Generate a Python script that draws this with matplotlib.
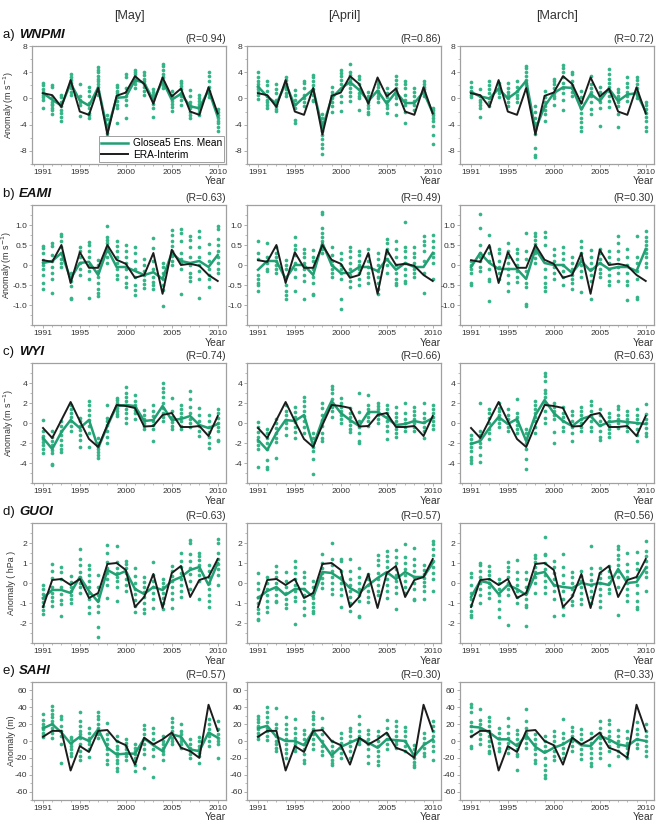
import matplotlib
matplotlib.use("Agg")
import matplotlib.pyplot as plt
from matplotlib.ticker import MultipleLocator, FixedLocator

plt.rcParams['font.family'] = ['Liberation Sans', 'DejaVu Sans']

years = list(range(1991, 2011))
months = ["[May]", "[April]", "[March]"]
row_labels = ["a)", "b)", "c)", "d)", "e)"]
row_names = ["WNPMI", "EAMI", "WYI", "GUOI", "SAHI"]
ylabels = ["Anomaly (m s$^{-1}$)", "Anomaly (m s$^{-1}$)", "Anomaly (m s$^{-1}$)",
           "Anomaly ( hPa )", "Anomaly (m)"]
r_values = [["(R=0.94)", "(R=0.86)", "(R=0.72)"],
            ["(R=0.63)", "(R=0.49)", "(R=0.30)"],
            ["(R=0.74)", "(R=0.66)", "(R=0.63)"],
            ["(R=0.63)", "(R=0.57)", "(R=0.56)"],
            ["(R=0.57)", "(R=0.30)", "(R=0.33)"]]
ylims = [(-10, 8), (-1.5, 1.5), (-6, 6), (-3, 3), (-70, 70)]
yticks = [[-8, -4, 0, 4, 8], [-1.0, -0.5, 0, 0.5, 1.0], [-4, -2, 0, 2, 4],
          [-2, -1, 0, 1, 2], [-60, -40, -20, 0, 20, 40, 60]]
yticklabels = [["-8", "-4", "0", "4", "8"], ["-1.0", "-0.5", "0", "0.5", "1.0"],
               ["-4", "-2", "0", "2", "4"], ["-2", "-1", "0", "1", "2"],
               ["-60", "-40", "-20", "0", "20", "40", "60"]]

# ERA-Interim (same for all lead months)
era_wnpmi = [0.8, 0.5, -1.3, 2.8, -2.0, -2.5, 1.6, -5.5, 0.4, 0.9, 3.4, 2.2, -0.8, 3.2, 0.3, 1.5, -2.0, -2.5, 1.7, -2.3]
era_eami = [0.12, 0.08, 0.5, -0.45, 0.32, -0.07, -0.07, 0.5, 0.13, 0.03, -0.32, -0.25, 0.3, -0.72, 0.38, 0.0, 0.03, -0.02, -0.25, -0.4]
era_wyi = [-0.5, -1.5, 0.3, 2.1, 0.2, -1.6, -2.4, -0.2, 1.8, 1.7, 1.5, -0.35, -0.3, 0.8, 1.0, -0.4, -0.4, -0.3, -1.3, 0.7]
era_guoi = [-1.2, 0.15, 0.2, -0.1, 0.2, -0.75, -0.5, 0.95, 1.0, 0.65, -1.2, -0.7, 0.45, -1.25, 0.5, 0.85, -0.7, 0.15, 0.3, 1.2]
era_sahi = [5, 12, 12, -35, -6, -13, 12, 13, 0, -5, -28, 4, -4, 2, 10, -8, -12, -20, 43, 12]

# GloSea5 ensemble means
mean_wnpmi_may = [0.8, -0.2, -1.1, 2.3, -0.3, -1.1, 1.7, -4.8, 0.1, 0.2, 2.8, 2.4, -0.3, 2.7, -0.2, 0.7, -1.2, -1.5, 1.3, -2.8]
mean_wnpmi_apr = [1.8, 0.3, -0.8, 2.3, -1.1, 0.2, 1.4, -4.5, 0.0, 1.5, 2.5, 1.3, -0.4, 1.2, -0.8, 1.0, -0.7, -0.7, 1.0, -2.2]
mean_wnpmi_mar = [1.0, 0.3, 0.0, 1.5, 0.0, 1.0, 2.7, -4.8, -1.2, 0.8, 1.7, 1.6, -1.7, 0.7, -0.4, 1.5, -0.4, 0.6, 0.8, -2.0]
mean_eami_may = [0.05, 0.1, 0.3, -0.35, 0.05, 0.08, -0.25, 0.4, -0.05, -0.05, -0.15, -0.25, -0.18, -0.35, 0.3, 0.1, 0.05, 0.1, -0.05, 0.25]
mean_eami_apr = [-0.12, 0.1, 0.1, -0.35, 0.0, 0.0, -0.25, 0.55, 0.0, -0.2, -0.2, -0.05, -0.05, -0.15, 0.15, -0.12, 0.05, -0.05, -0.05, 0.3]
mean_eami_mar = [-0.05, 0.3, 0.05, -0.1, -0.1, -0.1, -0.35, 0.4, 0.05, 0.0, 0.0, -0.2, 0.1, -0.15, 0.05, -0.1, -0.05, -0.05, -0.15, 0.4]
mean_wyi_may = [-1.5, -2.6, -0.9, 0.3, -0.5, 0.3, -2.5, -0.3, 1.7, 1.8, 1.7, 0.2, 0.3, 1.7, 0.3, 0.4, 0.7, -0.2, -0.5, -0.1]
mean_wyi_apr = [-1.7, -2.7, -1.0, 0.3, 0.2, 0.8, -2.3, 0.3, 2.2, 1.0, 0.3, -0.3, 1.1, 1.1, 0.5, -0.2, -0.1, 0.2, 0.0, 0.5]
mean_wyi_mar = [-2.1, -1.8, -0.5, 0.6, -0.1, 0.4, -1.8, 0.8, 2.3, 1.0, 0.2, -0.3, 0.4, 0.7, -0.3, 0.1, 0.2, 0.1, 0.0, -0.1]
mean_guoi_may = [-0.75, -0.35, -0.35, -0.5, 0.3, -0.4, -0.95, 0.65, 0.4, 0.6, -0.3, -0.55, -0.2, -0.35, 0.1, 0.3, 0.65, 0.8, -0.1, 1.0]
mean_guoi_apr = [-0.75, -0.4, -0.2, -0.6, -0.3, -0.3, -0.7, 0.55, 0.5, 0.2, -0.25, -0.5, -0.1, 0.25, 0.55, 0.2, 0.55, 0.3, 0.3, 1.0]
mean_guoi_mar = [-0.7, 0.1, 0.0, -0.55, -0.1, -0.3, -0.6, 0.45, 0.55, -0.1, -0.2, -0.25, 0.0, -0.1, 0.0, -0.1, 0.7, 0.0, 0.05, 0.75]
mean_sahi_may = [15, 20, 10, -3, 5, 0, 14, -8, -16, -15, -15, 3, -5, -12, 8, 5, -10, -12, 10, 4]
mean_sahi_apr = [15, 18, 5, 0, 0, -5, 12, -2, -17, -7, -2, 3, -2, -8, 2, 1, 0, -18, -5, 2]
mean_sahi_mar = [17, 16, 10, 2, 2, -6, 7, -7, -14, -8, -4, 3, -5, -6, 6, 2, -4, -6, 2, 0]

# GloSea5 ensemble members (one list per year)
mem_wnpmi_may = [
    [2.4, 2.1, 1.5, 1.0, 0.5, 0.2, -0.3, -1.4], [2.0, 1.7, 0.2, -0.5, -0.8, -1.0, -1.4, -1.8, -2.4],
    [0.6, 0.2, -0.5, -1.2, -1.8, -2.2, -2.8, -3.4], [3.8, 3.2, 2.8, 2.4, 2.0, 1.6, 1.0, 0.5],
    [2.2, 0.4, -0.2, -0.5, -1.0, -2.7], [1.8, 1.2, 0.4, -0.7, -1.4, -2.2, -2.6, -3.0],
    [4.8, 4.4, 4.0, 3.5, 3.0, 2.6, 2.2, 1.8, 1.2, 0.6], [-2.5, -3.2, -4.0, -4.6, -5.2, -5.8, -6.8, -7.4, -8.0],
    [2.0, 1.7, 1.2, 0.8, 0.2, -0.4, -1.0, -1.4, -3.7], [3.8, 3.2, 1.6, 1.0, 0.3, -0.3, -1.0, -3.0],
    [4.4, 4.1, 3.7, 3.3, 3.0, 2.6, 2.2, 1.6], [4.0, 3.6, 3.0, 2.6, 2.2, 1.8, 1.2, 0.6],
    [1.5, 1.0, 0.5, -0.3, -0.8, -1.5, -2.8], [5.3, 4.9, 4.4, 3.8, 3.2, 2.5, 2.0, 1.6],
    [1.2, 0.6, 0.2, -0.4, -0.8, -1.3, -1.9], [2.7, 2.3, 1.9, 1.4, 0.8, 0.3, -0.2, -1.0],
    [1.3, 0.4, -0.5, -1.0, -1.5, -2.0, -2.5, -3.0], [0.5, 0.1, -0.4, -0.8, -1.2, -1.6, -2.0, -2.5],
    [4.0, 3.4, 2.6, 1.8, 1.2, 0.7, 0.2], [-1.6, -2.0, -2.6, -3.0, -3.4, -3.8, -4.4, -5.0, -6.1]]
mem_wnpmi_apr = [
    [4.0, 3.2, 2.6, 2.2, 1.8, 1.4, 1.0, 0.6, -0.1], [2.6, 2.0, 1.2, 0.4, -0.2, -0.6, -1.0, -1.4],
    [2.2, 1.5, 0.8, -0.2, -0.8, -1.2, -1.6, -1.9], [3.3, 2.8, 2.2, 1.8, 1.4, 0.9, 0.4],
    [1.3, 0.6, -0.2, -0.8, -1.4, -3.3, -3.8], [2.6, 2.3, 1.6, 0.6, 0.0, -0.5, -1.2],
    [3.6, 3.2, 2.6, 2.0, 1.4, 0.6, -0.2, -0.4], [-2.4, -3.0, -3.6, -4.2, -5.0, -5.6, -6.2, -7.0, -7.6, -8.5],
    [1.7, 1.0, 0.5, 0.0, -0.6, -1.2, -2.0], [4.4, 3.9, 3.4, 2.8, 2.2, 1.4, 0.4, -0.6, -1.9],
    [5.2, 4.0, 3.6, 3.0, 2.6, 2.2, 1.6, 1.0, 0.4, -0.4], [3.4, 3.0, 2.2, 1.4, 0.8, 0.4, 0.0, -1.8],
    [1.0, 0.4, 0.0, -0.5, -1.0, -1.5, -2.0, -2.4], [2.6, 2.2, 1.8, 1.2, 0.8, 0.4, 0.0, -0.6],
    [1.6, 0.8, 0.2, -0.4, -1.0, -1.5, -2.2], [3.4, 2.8, 2.2, 1.6, 1.2, 0.6, 0.0, -0.8, -2.6],
    [2.6, 2.2, 1.6, 0.6, -0.2, -1.0, -2.0, -3.7], [1.6, 1.0, 0.4, -0.4, -1.0, -1.8],
    [2.6, 2.2, 1.8, 1.4, 1.0, 0.4], [-1.4, -1.8, -2.2, -2.6, -3.0, -3.4, -4.2, -5.6, -6.9]]
mem_wnpmi_mar = [
    [2.5, 1.8, 1.2, 1.0, 0.6, 0.2], [1.4, 0.4, -0.2, -0.6, -1.0, -1.5, -2.8],
    [2.6, 2.0, 1.4, 0.8, 0.0, -0.6, -1.2], [2.4, 2.0, 1.6, 1.2, 0.8, 0.2],
    [2.4, 1.6, 1.0, 0.6, 0.0, -0.6, -1.2], [2.6, 1.8, 1.2, 0.6, 0.0, -0.6],
    [5.0, 4.6, 4.0, 3.4, 2.8, 2.4, 2.0, 1.4], [-1.2, -2.0, -3.0, -3.8, -4.6, -5.4, -7.6, -8.6, -8.9],
    [1.2, 0.2, -0.6, -1.2, -1.8, -2.4, -3.4], [3.0, 2.6, 2.2, 1.6, 0.8, 0.4, 0.0, -1.0],
    [5.1, 4.6, 4.0, 3.2, 2.4, 1.6, 0.8, -0.3, -1.8], [4.0, 3.8, 2.6, 2.0, 1.6, 1.0, 0.4],
    [1.2, 0.2, -0.6, -1.4, -2.2, -3.0, -3.6, -4.4, -5.0], [3.4, 2.2, 1.6, 1.0, 0.4, -0.6, -1.6, -2.4],
    [1.8, 1.0, 0.4, 0.0, -0.6, -1.4, -4.2], [4.5, 3.8, 3.0, 2.4, 1.8, 1.2, 0.4, -0.4, -1.3],
    [1.4, 1.0, 0.4, 0.0, -0.6, -1.2, -2.4, -4.3], [3.2, 2.4, 1.8, 1.0, 0.4, -0.4],
    [3.2, 2.8, 2.2, 1.6, 1.0, 0.6, 0.0], [-0.6, -1.0, -1.6, -2.2, -2.8, -3.4, -4.4, -5.0]]

mem_eami_may = [
    [0.48, 0.42, 0.3, 0.12, 0.0, -0.1, -0.25, -0.45, -0.6], [0.55, 0.48, 0.25, 0.1, -0.05, -0.2, -0.35, -0.7],
    [0.78, 0.72, 0.6, 0.45, 0.3, 0.15, 0.05, -0.05], [-0.2, -0.3, -0.4, -0.52, -0.82, -0.86],
    [0.45, 0.35, 0.2, 0.05, -0.1, -0.25], [0.58, 0.5, 0.35, 0.2, 0.0, -0.15, -0.35, -0.82],
    [0.12, 0.0, -0.15, -0.3, -0.45, -0.6, -0.7, -0.78], [0.98, 0.7, 0.62, 0.55, 0.45, 0.35, 0.2, 0.05],
    [0.6, 0.48, 0.35, 0.2, 0.05, -0.1, -0.25, -0.35], [0.5, 0.35, 0.2, 0.05, -0.1, -0.3, -0.45, -0.55],
    [0.45, 0.3, 0.1, -0.1, -0.3, -0.5, -0.62, -0.75], [0.15, 0.0, -0.15, -0.25, -0.38, -0.48, -0.58],
    [0.68, 0.42, 0.1, -0.1, -0.3, -0.42, -0.5, -0.6], [0.05, -0.05, -0.2, -0.35, -0.5, -0.62, -1.02],
    [0.88, 0.75, 0.6, 0.48, 0.35, 0.22, 0.1, 0.0], [0.9, 0.8, 0.6, 0.3, 0.15, 0.05, -0.1, -0.72],
    [0.72, 0.62, 0.45, 0.2, 0.0, -0.2, -0.3, -0.4], [0.85, 0.7, 0.45, 0.2, 0.0, -0.15, -0.35, -0.82],
    [0.52, 0.3, 0.1, -0.1, -0.25, -0.35, -0.55], [0.98, 0.9, 0.65, 0.5, 0.35, 0.2, 0.05, -0.1, -0.2]]
mem_eami_apr = [
    [0.6, 0.3, 0.15, -0.25, -0.35, -0.45, -0.5, -0.65], [0.56, 0.2, 0.05, -0.1, -0.15],
    [0.45, 0.3, 0.2, 0.1, 0.0, -0.1, -0.2], [0.12, 0.0, -0.1, -0.3, -0.5, -0.65, -0.75, -0.86],
    [0.7, 0.5, 0.4, 0.25, 0.05, -0.1, -0.3, -0.65], [0.4, 0.3, 0.2, 0.05, -0.1, -0.25, -0.4, -0.85],
    [0.38, 0.2, 0.1, -0.1, -0.3, -0.45, -0.72, -0.76], [1.33, 1.27, 0.92, 0.8, 0.7, 0.6, 0.5, 0.4, 0.3],
    [0.45, 0.25, 0.1, 0.0, -0.1, -0.2, -0.3], [0.3, 0.15, 0.0, -0.1, -0.2, -0.35, -0.85, -1.1],
    [0.45, 0.35, 0.2, 0.05, -0.1, -0.25, -0.4, -0.55], [0.35, 0.25, 0.1, 0.0, -0.1, -0.2, -0.35, -0.5],
    [0.4, 0.25, 0.1, -0.05, -0.2, -0.3, -0.45], [0.3, 0.15, 0.0, -0.15, -0.3, -0.45, -0.6, -0.72],
    [0.65, 0.55, 0.4, 0.3, 0.15, 0.0, -0.2], [0.6, 0.4, 0.2, 0.0, -0.2, -0.35, -0.45, -0.5],
    [1.08, 0.45, 0.35, 0.2, 0.05, -0.1, -0.25, -0.4, -0.45], [0.45, 0.3, 0.2, 0.05, -0.1, -0.2, -0.3],
    [0.72, 0.6, 0.5, 0.35, 0.1, -0.2, -0.7], [0.75, 0.6, 0.45, 0.3, 0.2, 0.05, -0.35]]
mem_eami_mar = [
    [0.1, 0.0, -0.1, -0.2, -0.45, -0.5], [1.27, 0.92, 0.5, 0.3, 0.2, 0.1, -0.05, -0.15],
    [0.75, 0.45, 0.3, 0.1, -0.1, -0.35, -0.4, -0.9], [0.4, 0.3, 0.1, -0.05, -0.2, -0.35],
    [0.55, 0.35, 0.2, 0.05, -0.1, -0.25, -0.45, -0.65], [0.4, 0.3, 0.15, 0.0, -0.15, -0.3, -0.42],
    [0.8, 0.35, 0.15, -0.15, -0.45, -0.55, -0.98, -1.02], [0.8, 0.72, 0.62, 0.52, 0.42, 0.3, 0.18, 0.05],
    [0.82, 0.7, 0.5, -0.1, -0.3, -0.45, -0.55, -0.65], [0.4, 0.25, 0.1, -0.05, -0.2, -0.35],
    [0.45, 0.3, 0.15, 0.0, -0.15, -0.3, -0.5], [0.2, 0.05, -0.1, -0.25, -0.35, -0.45, -0.6],
    [0.6, 0.45, 0.3, 0.15, 0.0, -0.15, -0.3, -0.68], [0.38, 0.2, 0.05, -0.1, -0.25, -0.4, -0.85],
    [0.4, 0.3, 0.15, 0.05, -0.1, -0.2, -0.3], [0.35, 0.2, 0.05, -0.1, -0.25, -0.4, -0.5],
    [0.72, 0.55, 0.35, 0.15, -0.05, -0.2, -0.4], [0.4, 0.2, 0.0, -0.2, -0.4, -0.5, -0.88],
    [0.72, 0.2, 0.05, -0.15, -0.35, -0.8, -0.85], [0.85, 0.7, 0.6, 0.5, 0.4, 0.3, 0.2, 0.05, -0.05]]

mem_wyi_may = [
    [0.3, -0.8, -1.3, -1.6, -1.9, -2.2, -2.6, -3.0], [-0.8, -1.4, -1.8, -2.2, -2.7, -3.0, -4.1, -4.2],
    [0.2, -0.3, -0.8, -1.2, -1.7, -2.2, -2.6, -2.9], [1.8, 1.4, 1.0, 0.6, 0.2, -0.3, -0.8],
    [0.5, 0.2, -0.3, -0.7, -1.2, -1.7, -2.4], [2.2, 1.8, 1.3, 0.8, 0.3, -0.3, -1.0, -2.4],
    [-1.5, -2.0, -2.3, -2.6, -2.9, -3.2, -3.5], [1.8, 0.5, 0.2, -0.2, -0.8, -1.4, -2.0],
    [2.5, 2.3, 2.0, 1.8, 1.5, 1.2, 0.9, 0.7], [3.6, 3.0, 2.6, 2.2, 1.8, 1.4, 1.0, 0.5, 0.0],
    [2.8, 2.2, 1.8, 1.6, 1.3, 1.0, 0.4], [1.3, 0.8, 0.4, 0.0, -0.3, -0.6],
    [1.8, 1.2, 0.7, 0.2, -0.2, -0.6, -1.8], [4.0, 3.5, 3.1, 2.6, 2.0, 1.5, 1.0, 0.6, 0.2],
    [2.5, 1.2, 0.6, 0.1, -0.3, -0.6], [1.8, 1.4, 1.0, 0.6, 0.2, -0.3, -0.6],
    [3.2, 2.4, 1.6, 1.0, 0.4, 0.0, -0.4], [1.5, 0.8, 0.2, -0.3, -0.8, -1.3],
    [0.8, 0.2, -0.4, -0.9, -1.4, -2.0, -2.5], [1.4, 1.0, 0.5, 0.0, -0.4, -0.8, -1.7, -1.8]]
mem_wyi_apr = [
    [0.1, -0.4, -0.9, -1.4, -1.8, -2.2, -2.6, -4.4], [-0.6, -1.0, -1.5, -2.0, -2.6, -3.7, -4.4, -4.6],
    [0.4, 0.0, -0.5, -1.0, -1.5, -1.9, -3.5], [1.8, 1.2, 0.8, 0.3, 0.0, -0.5, -1.2],
    [1.6, 1.1, 0.6, 0.1, -0.4, -0.9, -1.5], [2.6, 2.2, 1.7, 1.2, 0.7, 0.2, -0.4, -1.0],
    [-1.0, -1.5, -2.0, -2.4, -2.8, -3.6, -5.1], [2.0, 1.5, 0.8, 0.3, -0.3, -1.0, -1.5, -1.8],
    [3.7, 3.4, 3.0, 2.4, 2.0, 1.6, 1.2, 0.6], [2.5, 2.0, 1.6, 1.2, 0.8, 0.4, 0.0],
    [1.5, 1.0, 0.6, 0.2, -0.2, -0.6, -0.9], [3.0, 1.1, 0.2, -0.4, -1.0, -1.8, -2.0],
    [2.8, 1.8, 1.4, 1.0, 0.6, 0.2, -0.3], [2.0, 1.7, 1.4, 1.1, 0.8, 0.4, 0.0],
    [1.8, 1.4, 1.0, 0.6, 0.2, -0.3, -0.8, -1.6], [1.6, 1.0, 0.6, 0.2, -0.2, -0.6, -1.0, -1.4],
    [2.0, 1.0, 0.4, 0.0, -0.4, -0.8], [1.6, 1.2, 0.8, 0.4, 0.0, -0.4, -0.8],
    [2.0, 1.0, 0.5, 0.1, -0.4, -0.8, -1.5], [1.8, 1.4, 1.0, 0.6, 0.2, -0.2, -0.6]]
mem_wyi_mar = [
    [-1.2, -1.6, -2.0, -2.4, -2.8, -3.4, -3.7, -4.0], [2.0, -0.8, -1.2, -1.6, -2.0, -2.4, -3.2, -3.9],
    [1.4, 1.0, 0.5, 0.0, -0.6, -1.0, -1.6], [2.0, 1.5, 1.2, 0.8, 0.4, 0.0, -0.4],
    [1.4, 0.8, 0.4, 0.0, -0.4, -0.8], [2.4, 1.0, 0.6, 0.2, -0.2, -0.6, -1.0],
    [-0.6, -1.0, -1.6, -2.0, -2.6, -3.6, -4.6], [2.2, 1.8, 1.4, 1.0, 0.6, 0.2, -0.4, -1.0],
    [5.0, 4.7, 4.2, 3.3, 3.0, 2.6, 2.0, 1.2, 0.5, 0.0], [2.0, 1.6, 1.2, 0.8, 0.4, -0.9, -2.0],
    [1.6, 1.0, 0.6, 0.2, -0.4, -0.8], [1.2, 0.8, 0.2, -0.4, -1.0, -1.8],
    [1.6, 1.2, 0.8, 0.4, 0.0, -0.4, -0.8], [2.2, 1.8, 1.2, 0.7, 0.2, -0.4, -0.8],
    [1.4, 0.8, 0.2, -0.2, -0.8, -1.4, -1.7], [1.0, 0.6, 0.2, -0.2, -0.6, -1.0, -1.4],
    [1.7, 1.4, 0.8, 0.4, 0.0, -0.5], [1.2, 0.8, 0.4, 0.0, -0.4, -0.8],
    [1.4, 0.8, 0.4, 0.0, -0.6, -1.2, -1.8], [1.9, 0.9, 0.4, 0.0, -0.5, -1.0, -1.3]]

mem_guoi_may = [
    [-0.1, -0.3, -0.55, -0.75, -0.95, -1.15, -1.35, -1.55], [0.95, 0.6, 0.25, -0.2, -0.5, -0.7, -0.9, -1.15],
    [0.8, 0.55, 0.2, -0.2, -0.55, -0.85, -1.05, -1.65], [0.35, 0.05, -0.2, -0.4, -0.6, -0.8, -1.0],
    [1.7, 1.2, 0.9, 0.55, 0.3, 0.0, -0.2, -0.5], [0.9, 0.7, 0.4, 0.1, -0.2, -0.5, -0.8, -1.2, -1.5],
    [0.4, -0.2, -0.6, -0.85, -1.15, -1.45, -2.2, -2.7], [1.9, 1.5, 1.05, 0.75, 0.5, 0.2, -0.1, -0.75],
    [1.85, 1.05, 0.75, 0.5, 0.3, 0.1, -0.2, -0.9], [1.1, 0.95, 0.75, 0.5, 0.2, -0.1, -0.4],
    [0.75, 0.35, 0.0, -0.3, -0.55, -0.85, -1.15, -1.45], [0.3, 0.05, -0.2, -0.45, -0.7, -1.0, -1.3, -1.5],
    [1.05, 0.4, 0.1, -0.2, -0.5, -0.8, -1.25], [0.2, 0.0, -0.2, -0.5, -0.75, -1.0, -1.3],
    [0.85, 0.6, 0.35, 0.1, -0.2, -0.5, -0.8, -1.25], [1.5, 1.1, 0.8, 0.5, 0.2, -0.1, -0.4, -0.7],
    [2.15, 2.0, 1.45, 1.1, 0.75, 0.45, 0.1, -0.3], [1.5, 1.35, 1.15, 0.9, 0.65, 0.4, 0.1, -0.8],
    [0.9, 0.6, 0.3, 0.0, -0.3, -0.6, -0.9, -1.2], [2.2, 2.0, 1.5, 1.2, 0.95, 0.7, 0.4, -0.1]]
mem_guoi_apr = [
    [0.5, 0.0, -0.3, -0.7, -1.0, -1.3, -1.5, -1.8, -1.85], [0.3, 0.0, -0.3, -0.6, -0.9, -1.2, -1.45],
    [0.85, 0.55, 0.3, 0.0, -0.3, -0.6, -0.9, -0.95], [0.55, 0.1, -0.2, -0.5, -0.8, -1.05, -1.25],
    [1.1, 0.8, 0.5, 0.2, -0.1, -0.4, -0.7, -0.9, -2.05], [0.55, 0.3, 0.0, -0.3, -0.6, -0.9, -1.25, -1.6],
    [0.1, -0.2, -0.5, -0.75, -1.0, -1.2, -1.4, -1.5], [1.45, 1.0, 0.75, 0.5, 0.25, 0.0, -0.25],
    [2.0, 1.2, 0.9, 0.6, 0.3, 0.0, -0.3, -0.55], [1.2, 1.1, 0.6, 0.3, 0.0, -0.3, -0.6, -1.2],
    [1.2, 0.6, 0.2, -0.1, -0.4, -0.7, -1.0, -1.4], [0.75, 0.3, 0.0, -0.3, -0.6, -0.9, -1.65, -1.7],
    [0.45, 0.2, -0.1, -0.4, -0.7, -0.95], [1.4, 1.15, 0.9, 0.5, 0.2, -0.1, -0.4, -0.6],
    [1.6, 1.35, 1.1, 0.8, 0.5, 0.2, -0.1, -0.4, -0.75], [1.65, 1.3, 1.0, 0.7, 0.4, 0.1, -0.2, -0.5, -1.3],
    [1.95, 1.3, 1.0, 0.7, 0.4, 0.1, -0.2, -0.5], [1.75, 1.2, 0.9, 0.6, 0.3, 0.0, -0.3, -0.8, -0.85],
    [0.9, 0.65, 0.45, 0.25, 0.05, -0.15, -0.4, -0.8], [2.1, 1.95, 1.7, 1.4, 1.1, 0.8, 0.5, 0.2, -0.4]]
mem_guoi_mar = [
    [0.5, 0.3, -0.1, -0.5, -0.8, -1.1, -1.4, -1.6, -1.7], [1.0, 0.9, 0.6, 0.3, 0.0, -0.3, -0.6, -1.0],
    [0.85, 0.6, 0.4, 0.2, 0.0, -0.2, -0.5, -0.75], [0.2, 0.0, -0.3, -0.6, -0.9, -1.3, -1.7],
    [1.05, 0.8, 0.6, 0.3, 0.0, -0.3, -0.6, -2.1], [1.15, 0.55, 0.2, -0.1, -0.4, -0.7, -1.0],
    [0.55, 0.2, -0.2, -0.5, -0.8, -1.1, -1.2, -2.15], [1.4, 1.25, 1.05, 0.8, 0.55, 0.3, 0.0, -0.5],
    [2.3, 1.45, 1.4, 1.0, 0.7, 0.4, 0.1, -0.2, -0.5], [1.1, 0.8, 0.5, 0.2, -0.1, -0.4, -0.8, -1.65],
    [1.45, 0.8, 0.4, 0.0, -0.4, -0.8, -1.2, -1.6], [0.55, 0.3, 0.0, -0.3, -0.6, -0.9, -1.1],
    [0.6, 0.35, 0.1, -0.2, -0.5, -0.8, -1.05], [1.85, 0.75, 0.45, 0.15, -0.1, -0.4, -0.7, -1.0],
    [0.75, 0.5, 0.25, 0.0, -0.3, -0.6, -0.9, -1.2], [0.85, 0.6, 0.3, 0.0, -0.3, -0.5],
    [1.85, 1.7, 1.4, 1.2, 0.9, 0.6, 0.3, -0.2, -1.6], [1.5, 0.95, 0.6, 0.3, 0.0, -0.3, -0.6, -0.9],
    [1.55, 1.0, 0.7, 0.3, -0.1, -0.5, -0.9, -1.2, -1.3], [2.1, 1.6, 1.35, 1.1, 0.8, 0.55, 0.3, -0.4]]

mem_sahi_may = [
    [32, 25, 20, 17, 14, 10, 7, 5], [41, 37, 32, 28, 24, 20, 15, 10, 4],
    [30, 26, 18, 12, 6, -4, -26], [5, 2, -2, -6, -10, -14, -18],
    [35, 24, 18, 12, 8, 4, -4, -12, -18, -22], [16, 10, 4, 0, -4, -10, -19],
    [34, 30, 26, 20, 16, 12, 8, 4], [21, 8, 2, -4, -10, -16, -22, -27],
    [6, 0, -6, -10, -14, -18, -22, -26, -32, -36], [2, -2, -6, -10, -14, -18, -22],
    [-4, -8, -12, -16, -20, -24, -28, -36], [19, 14, 8, 2, -4, -10, -16, -32],
    [16, 9, 2, -4, -10, -18, -43], [6, 0, -4, -8, -12, -16, -22],
    [27, 22, 17, 12, 8, 4, 0, -4], [20, 12, 8, 4, 0, -4, -8],
    [2, -4, -8, -12, -16, -20], [5, 0, -6, -10, -14, -18, -26],
    [26, 20, 14, 10, 6, 0, -6], [24, 14, 8, 4, 0, -4, -20]]
mem_sahi_apr = [
    [30, 26, 22, 18, 14, 10, 6, 2], [40, 34, 28, 22, 16, 12, 6, 1],
    [39, 20, 16, 6, 0, -4, -8, -12], [29, 20, 14, 8, 2, -4, -10, -14, -20],
    [26, 16, 10, 4, 0, -4, -8, -12], [13, 8, 2, -4, -10, -16, -22, -26],
    [35, 30, 26, 20, 14, 8, 2, -4, -10], [27, 16, 8, 0, -6, -12, -17],
    [0, -6, -12, -18, -22, -26, -29], [10, 4, -2, -8, -14, -20],
    [15, 12, 6, 0, -6, -12, -20], [30, 20, 12, 6, 0, -4],
    [13, 8, 2, -4, -10, -18, -26], [12, 6, 0, -6, -12, -18, -24, -28],
    [25, 15, 8, 2, -4, -10], [24, 18, 12, 6, 0, -4, -8],
    [17, 12, 6, 0, -6, -12], [-5, -10, -15, -20, -25, -28, -31],
    [10, 4, -2, -8, -14, -18], [24, 18, 12, 6, 0, -6, -12, -22]]
mem_sahi_mar = [
    [44, 40, 34, 22, 18, 12, 6, -6, -8], [38, 25, 20, 14, 8, 2, -4],
    [28, 24, 18, 12, 6, 0, -6, -12, -14], [16, 10, 4, -2, -8, -12],
    [27, 18, 10, 4, -2, -8, -14], [13, 8, 2, -4, -10, -16, -18, -34],
    [38, 24, 16, 10, 4, -2, -8], [8, 2, -4, -10, -16, -22, -26],
    [6, 0, -6, -12, -20, -28, -34, -40, -44], [12, 6, 0, -6, -12, -18, -22],
    [26, 10, 4, -2, -8, -14, -20], [17, 12, 6, 0, -6, -12],
    [14, 8, 2, -4, -10, -16, -21], [10, 4, -2, -8, -14, -20, -26, -30],
    [24, 16, 10, 4, -2, -8, -14, -20], [25, 20, 12, 6, 0, -6, -12, -28],
    [13, 6, 0, -6, -12, -18], [12, 4, -2, -8, -14, -20],
    [22, 14, 8, 2, -4, -8], [20, 12, 6, 0, -6, -12, -18]]

era_rows = [era_wnpmi, era_eami, era_wyi, era_guoi, era_sahi]
mean_rows = [[mean_wnpmi_may, mean_wnpmi_apr, mean_wnpmi_mar],
             [mean_eami_may, mean_eami_apr, mean_eami_mar],
             [mean_wyi_may, mean_wyi_apr, mean_wyi_mar],
             [mean_guoi_may, mean_guoi_apr, mean_guoi_mar],
             [mean_sahi_may, mean_sahi_apr, mean_sahi_mar]]
mem_rows = [[mem_wnpmi_may, mem_wnpmi_apr, mem_wnpmi_mar],
            [mem_eami_may, mem_eami_apr, mem_eami_mar],
            [mem_wyi_may, mem_wyi_apr, mem_wyi_mar],
            [mem_guoi_may, mem_guoi_apr, mem_guoi_mar],
            [mem_sahi_may, mem_sahi_apr, mem_sahi_mar]]

W, H = 658, 824
fig = plt.figure(figsize=(W / 100, H / 100), dpi=100)

col_left = [32, 247, 460]
col_w = 194
row_top = [46, 205, 363, 523, 682]
row_h = [118, 120, 120, 120, 118]
ylabel_x = [-0.082, -0.095, -0.082, -0.082, -0.082]

dot_color = "#35b487"
mean_color = "#22a074"
era_color = "#1c1c1c"
spine_color = "#a0a0a0"
text_color = "#333333"

for r in range(5):
    for c in range(3):
        ax = fig.add_axes([col_left[c] / W, 1 - (row_top[r] + row_h[r]) / H,
                           col_w / W, row_h[r] / H])
        mem = mem_rows[r][c]
        xs = [y for y, vals in zip(years, mem) for _ in vals]
        ys = [v for vals in mem for v in vals]
        ax.scatter(xs, ys, s=7, color=dot_color, linewidths=0, zorder=2)
        ax.plot(years, mean_rows[r][c], color=mean_color, lw=1.8, zorder=3,
                label="Glosea5 Ens. Mean")
        ax.plot(years, era_rows[r], color=era_color, lw=1.4, zorder=4,
                label="ERA-Interim")
        ax.set_xlim(1989.8, 2010.9)
        ax.set_ylim(*ylims[r])
        ax.xaxis.set_major_locator(FixedLocator([1991, 1995, 2000, 2005, 2010]))
        ax.xaxis.set_minor_locator(MultipleLocator(1))
        ax.set_yticks(yticks[r])
        ax.set_yticklabels(yticklabels[r])
        ax.tick_params(axis='both', which='major', labelsize=6.1, length=2,
                       width=0.6, color=spine_color, labelcolor=text_color, pad=1.3)
        ax.tick_params(axis='x', which='minor', length=1.5, width=0.5, color=spine_color)
        ax.yaxis.set_minor_locator(MultipleLocator((yticks[r][1] - yticks[r][0]) / 2))
        ax.tick_params(axis='y', which='minor', length=1.2, width=0.5, color=spine_color)
        for sp in ax.spines.values():
            sp.set_color(spine_color)
            sp.set_linewidth(0.9)
        ax.text(1.0, 1.02, r_values[r][c], transform=ax.transAxes, ha='right',
                va='bottom', fontsize=7.5, color=text_color)
        ax.text(1.0, -0.105, "Year", transform=ax.transAxes, ha='right',
                va='top', fontsize=7.5, color=text_color)
        if c == 0:
            ax.set_ylabel(ylabels[r], fontsize=6.4, color=text_color)
            ax.yaxis.set_label_coords(ylabel_x[r], 0.5)
        if r == 0:
            ax.text(0.5, 1.0 + 30 / row_h[r], months[c], transform=ax.transAxes,
                    ha='center', va='center', fontsize=9, color=text_color)
        if r == 0 and c == 0:
            leg = ax.legend(loc='lower right', bbox_to_anchor=(1.0, 0.0),
                            fontsize=7.3, frameon=True, fancybox=False,
                            borderaxespad=0.15, handlelength=2.6, borderpad=0.25,
                            labelspacing=0.15, handletextpad=0.5)
            leg.get_frame().set_edgecolor(spine_color)
            leg.get_frame().set_linewidth(0.7)
            leg.get_frame().set_alpha(1)
            leg.set_zorder(10)
    # row label
    ytxt = 1 - (row_top[r] - 11) / H
    fig.text(3 / W, ytxt, row_labels[r] + " ", fontsize=9.5, ha='left',
             va='center', color="#111111")
    fig.text(19 / W, ytxt, row_names[r], fontsize=9.5, ha='left', va='center',
             fontweight='bold', fontstyle='italic', color="#111111")

fig.savefig("out.png", dpi=100)
